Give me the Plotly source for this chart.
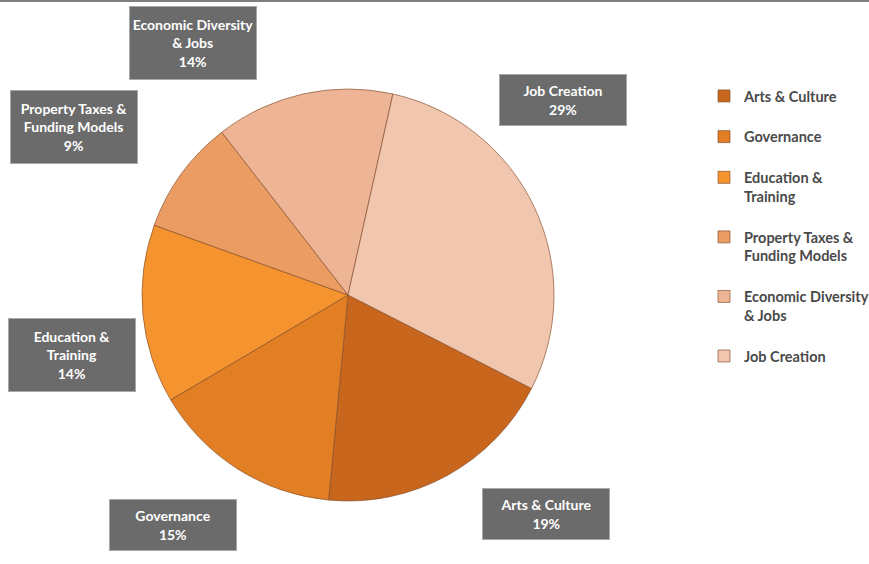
import plotly.graph_objects as go

# ---- data ----
categories = ["Arts & Culture", "Governance", "Education & Training",
              "Property Taxes & Funding Models", "Economic Diversity & Jobs", "Job Creation"]
shares = [19, 15, 14, 9, 14, 29]
legend_labels = ["Arts & Culture", "Governance", "Education &<br>Training",
                 "Property Taxes &<br>Funding Models", "Economic Diversity<br>& Jobs", "Job Creation"]
box_labels = ["Arts & Culture", "Governance", "Education &<br>Training",
              "Property Taxes &<br>Funding Models", "Economic Diversity<br>& Jobs", "Job Creation"]

# ---- styles ----
W, H = 869, 564
colors = ["#C9661E", "#E27F24", "#F5942F", "#EA9C63", "#EDB596", "#F1C6AF"]
FONT = "Lato"

# one blank line after every legend entry for Excel-like spacing
padded = [lab + "<br> " for lab in legend_labels]

fig = go.Figure(go.Pie(
    labels=padded,
    values=shares,
    customdata=categories,
    sort=False,
    direction="clockwise",
    rotation=117,
    textinfo="none",
    marker=dict(colors=colors, line=dict(color="rgba(130,75,40,0.65)", width=1)),
    hovertemplate="%{customdata}: %{percent}<extra></extra>",
    domain=dict(x=[(348 - 206) / W, (348 + 206) / W], y=[1 - 501 / H, 1 - 89 / H]),
))

# label boxes (pixel centres -> paper)
box_centres = [(546, 514), (173, 525), (72, 355), (74, 127), (193, 43), (563, 100)]
total = sum(shares)
annotations = []
for lab, v, (cx, cy) in zip(box_labels, shares, box_centres):
    nlines = lab.count("<br>") + 2
    annotations.append(dict(
        x=cx / W, y=1 - cy / H, xref="paper", yref="paper",
        xanchor="center", yanchor="middle", showarrow=False,
        text=f"<b>{lab}<br>{round(100 * v / total)}%</b>",
        font=dict(family=FONT, size=14, color="white"),
        bgcolor="#6B6B6B", bordercolor="#A8A8A8", borderwidth=1,
        borderpad=2, width=122, height=nlines * 22 + 2, align="center", valign="middle",
    ))

fig.update_layout(
    width=W, height=H,
    margin=dict(l=0, r=0, t=0, b=0, autoexpand=False),
    paper_bgcolor="white", plot_bgcolor="white",
    showlegend=True,
    legend=dict(
        x=704 / W, y=1 - 80 / H, xanchor="left", yanchor="top",
        font=dict(family=FONT, size=14.5, color="#4A4A4A", weight="bold"),
        valign="top", traceorder="normal",
        bgcolor="rgba(0,0,0,0)",
    ),
    annotations=annotations,
    shapes=[dict(type="line", xref="paper", yref="paper", x0=0, x1=1, y0=1, y1=1,
                 line=dict(color="#7F7F7F", width=4))],
)

fig.write_html("out.html")
